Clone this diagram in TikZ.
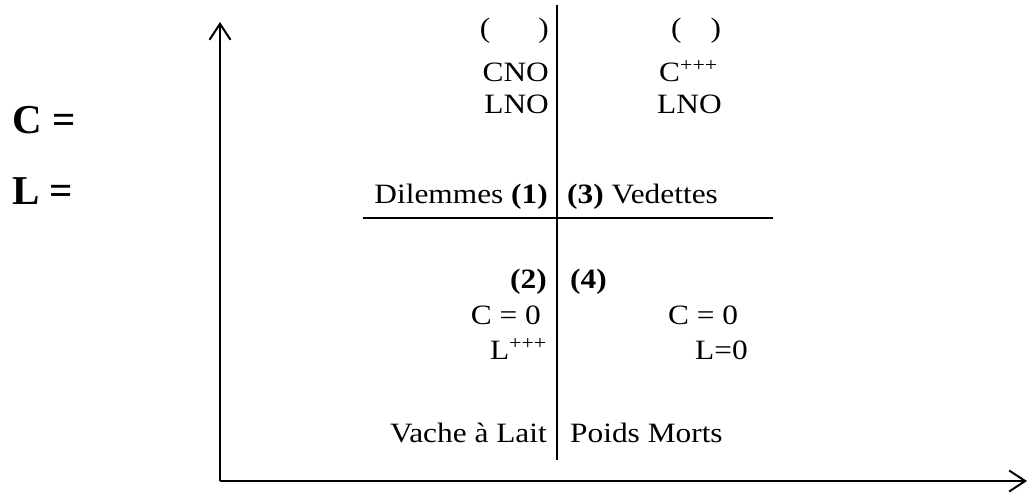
\documentclass[tikz,border=0pt]{standalone}
\usepackage{fontspec}
\setmainfont{Liberation Serif}[FakeStretch=1.12]
\newfontfamily\bigfont{Liberation Serif}
\usetikzlibrary{arrows.meta}

\tikzset{txt/.style={inner sep=0pt,font=\fontsize{28}{33}\selectfont},
         big/.style={inner sep=0pt,anchor=base west,font=\bigfont\bfseries\fontsize{41}{48}\selectfont},
         axe/.style={line width=2pt,-{Straight Barb[length=16pt,width=21pt]}}}

\begin{document}
\begin{tikzpicture}[x=1pt,y=-1pt]
\useasboundingbox (0,0) rectangle (1029,493);
%
\coordinate (O) at (220,481);
\coordinate (Ytop) at (220,22);
\coordinate (Xend) at (1027,481);
\draw[axe] (O) -- (Ytop);
\draw[axe] (O) -- (Xend);
%
\coordinate (vtop) at (557,5);
\coordinate (vbot) at (557,460);
\coordinate (hleft) at (363,218);
\coordinate (hright) at (773,218);
\draw[line width=2pt] (vtop) -- (vbot);
\draw[line width=2pt] (hleft) -- (hright);
%
\node[big] (clab) at (12,133) {C =};
\node[big] (llab) at (12,204) {L =};
%
\node[txt,anchor=base east] (par1) at (549,37) {(\hspace{48pt})};
\node[txt,anchor=base east] (cno) at (549,81) {CNO};
\node[txt,anchor=base east] (lno1) at (549,113) {LNO};
\node[txt,anchor=base west] (par3) at (671,37) {(\hspace{29pt})};
\node[txt,anchor=base west] (cppp) at (659,81) {C\textsuperscript{+++}};
\node[txt,anchor=base west] (lno3) at (657,113) {LNO};
\node[txt,anchor=base east] (dil) at (548,203) {Dilemmes \textbf{(1)}};
\node[txt,anchor=base west] (ved) at (567,203) {\textbf{(3)} Vedettes};
%
\node[txt,anchor=base east] (n2) at (547,288) {\textbf{(2)}};
\node[txt,anchor=base west] (n4) at (570,288) {\textbf{(4)}};
\node[txt,anchor=base east] (c0a) at (541,324) {C = 0};
\node[txt,anchor=base east] (lppp) at (547,359) {L\textsuperscript{+++}};
\node[txt,anchor=base west] (c0b) at (668,324) {C = 0};
\node[txt,anchor=base west] (l0) at (695,359) {L=0};
\node[txt,anchor=base east] (vache) at (547,442) {Vache à Lait};
\node[txt,anchor=base west] (poids) at (570,442) {Poids Morts};
%
\end{tikzpicture}
\end{document}
